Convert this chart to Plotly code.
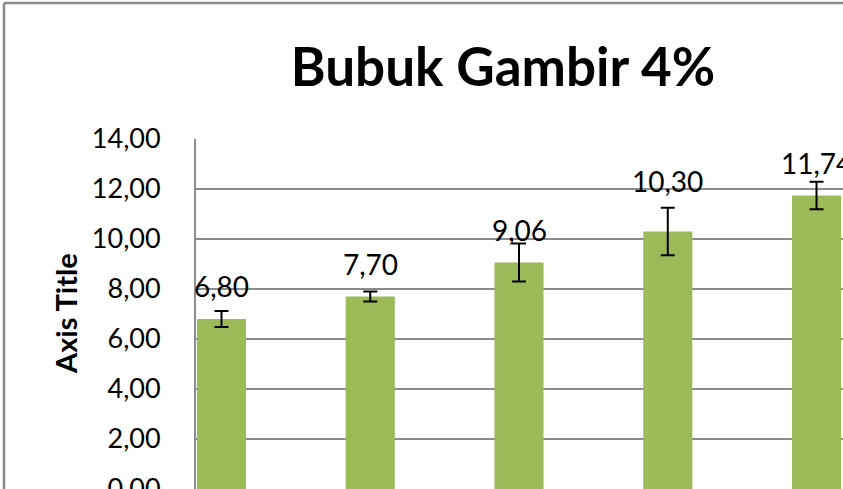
import plotly.graph_objects as go

# data
categories = [0, 1, 2, 3, 4]
means = [6.80, 7.70, 9.06, 10.30, 11.74]
errors = [0.32, 0.20, 0.76, 0.95, 0.55]
y_ticks = [0, 2, 4, 6, 8, 10, 12, 14]

# label offsets above the bar top (px); the fourth one was nudged up
label_shift = [14, 14, 14, 32, 14]

W, H = 843, 489
L, T = 196, 139  # plot area left / top in px
GRID = "#8c8c8c"


def px_x(x):
    return (x - L) / (W - L)


def px_y(y):
    return (H - y) / (H - T)


fig = go.Figure()
fig.add_bar(
    x=categories,
    y=means,
    width=0.33,
    marker=dict(color="#9BBB59", line=dict(width=0)),
    error_y=dict(type="data", array=errors, visible=True,
                 color="black", thickness=2, width=7),
    hoverinfo="y",
)

annotations = []
for c, m, s in zip(categories, means, label_shift):
    annotations.append(dict(
        x=c, y=m, xref="x", yref="y",
        text=f"{m:.2f}".replace(".", ","),
        showarrow=False, yanchor="bottom", xanchor="center",
        yshift=s, font=dict(family="Lato", size=28, color="black"),
    ))
annotations.append(dict(
    x=px_x(65), y=0.5, xref="paper", yref="paper",
    text="<b>Axis Title</b>", textangle=-90, showarrow=False,
    xanchor="center", yanchor="middle",
    font=dict(family="Lato", size=29, color="black"),
))

# outer chart frame (only top and left edges are visible)
shapes = [
    dict(type="line", xref="paper", yref="paper",
         x0=px_x(4), x1=px_x(845), y0=px_y(3), y1=px_y(3),
         line=dict(color="#8a8a8a", width=2.5)),
    dict(type="line", xref="paper", yref="paper",
         x0=px_x(4), x1=px_x(4), y0=px_y(3), y1=px_y(492),
         line=dict(color="#8a8a8a", width=2.5)),
]

fig.update_layout(
    template="none",
    width=W, height=H,
    margin=dict(l=L, r=0, t=T, b=0, pad=0),
    paper_bgcolor="white", plot_bgcolor="white",
    separators=",.",
    showlegend=False,
    title=dict(text="<b>Bubuk Gambir 4%</b>", xref="container", yref="container",
               x=503 / W, y=1 - 67 / H, xanchor="center", yanchor="middle",
               font=dict(family="Lato", size=53, color="black")),
    annotations=annotations,
    shapes=shapes,
)
fig.update_xaxes(range=[-0.1714, 4.178], showticklabels=False, showgrid=False,
                 zeroline=False, showline=False, automargin=False)
fig.update_yaxes(range=[0, 14], tickvals=y_ticks, tickformat=".2f",
                 showgrid=True, gridcolor=GRID, gridwidth=2,
                 showline=True, linecolor=GRID, linewidth=2,
                 zeroline=False, ticks="", ticklabelstandoff=28,
                 ticklabeloverflow="allow",
                 tickfont=dict(family="Lato", size=27, color="black"),
                 automargin=False)

# the page is exactly the chart size, so drop the default body margin
fig.write_html(
    "out.html",
    config={"displayModeBar": False},
    post_script="document.body.style.margin='0';document.body.style.overflow='hidden';",
)
